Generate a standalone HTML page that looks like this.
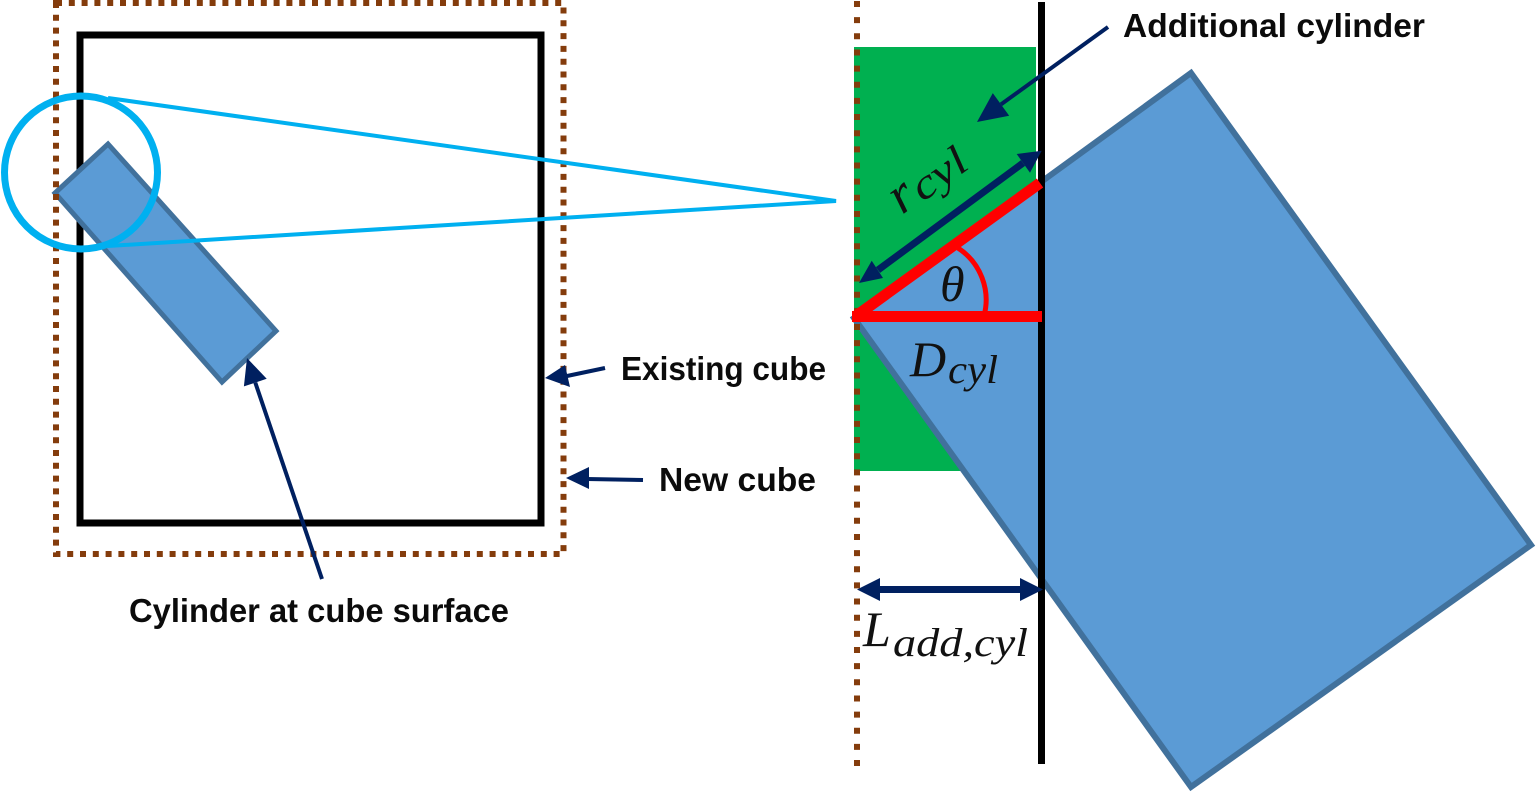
<!DOCTYPE html>
<html><head><meta charset="utf-8"><style>
html,body{margin:0;padding:0;background:#fff;width:1536px;height:795px;overflow:hidden}
svg{display:block}
.l{font-family:"Liberation Sans",sans-serif;font-weight:bold;font-size:33px;fill:#0b0b0b}
.m{font-family:"Liberation Serif",serif;font-style:italic;fill:#111}
</style></head><body>
<svg width="1536" height="795" viewBox="0 0 1536 795" xmlns="http://www.w3.org/2000/svg">
<rect x="854" y="47" width="182" height="424" fill="#00b050"/>
<polygon points="854,318 1191,73 1531,545 1191,787" fill="#5b9bd5" stroke="#41719c" stroke-width="6"/>
<rect x="80" y="35" width="461" height="488" fill="none" stroke="#000" stroke-width="7"/>
<polygon points="55,193 108,144 276,331 222,382" fill="#5b9bd5" stroke="#41719c" stroke-width="5"/>
<rect x="56" y="3" width="507.500" height="551" fill="none" stroke="#843c0c" stroke-width="6" stroke-dasharray="6 6.8"/>
<line x1="857" y1="1" x2="857" y2="766" stroke="#843c0c" stroke-width="6" stroke-dasharray="6 10.15"/>
<line x1="1041.500" y1="2" x2="1041.500" y2="764" stroke="#000" stroke-width="7"/>
<circle cx="81" cy="172.500" r="76.500" fill="none" stroke="#00b0f0" stroke-width="7"/>
<path d="M108 98L836 201L108 246" fill="none" stroke="#00b0f0" stroke-width="4"/>
<path d="M856 316L1040 183M852 316.500H1042" fill="none" stroke="#f00" stroke-width="11"/>
<path d="M958 248A62 62 0 0 1 984 316" fill="none" stroke="#f00" stroke-width="5"/>
<g fill="#002060" stroke="none">
<path d="M605 368L567 376" stroke="#002060" stroke-width="4" fill="none"/>
<polygon points="545,378 565,365 570,387"/>
<path d="M643 480L587 479" stroke="#002060" stroke-width="4" fill="none"/>
<polygon points="566,478 589,467 589,489"/>
<path d="M1108 27L1001 104.400" stroke="#002060" stroke-width="4" fill="none"/>
<polygon points="977,122 992.800,93.100 1009.200,115.700"/>
<path d="M322 579L255.300 382.600" stroke="#002060" stroke-width="4" fill="none"/>
<polygon points="247,358 266.700,378.800 243.900,386.400"/>
<path d="M878 270L1023 163" stroke="#002060" stroke-width="7" fill="none"/>
<polygon points="859,283 871.700,260.700 883,278"/>
<polygon points="1041.700,150.700 1016.700,154 1030,172.700"/>
<path d="M880 589.500H1020" stroke="#002060" stroke-width="7" fill="none"/>
<polygon points="857,589.500 880,578 880,601"/>
<polygon points="1043,589.500 1020,578 1020,601"/>
</g>
<text class="l" x="621" y="380" textLength="205" lengthAdjust="spacingAndGlyphs">Existing cube</text>
<text class="l" x="659" y="491" textLength="157" lengthAdjust="spacingAndGlyphs">New cube</text>
<text class="l" x="1123" y="37" textLength="302" lengthAdjust="spacingAndGlyphs">Additional cylinder</text>
<text class="l" x="129" y="622" textLength="380" lengthAdjust="spacingAndGlyphs">Cylinder at cube surface</text>
<g transform="translate(902 215) rotate(-36)">
<text class="m" font-size="54" x="0" y="0">r</text>
<text class="m" font-size="42" x="24" y="2" textLength="60" lengthAdjust="spacingAndGlyphs">cyl</text>
</g>
<text class="m" font-size="50" x="940" y="301">θ</text>
<text class="m" font-size="50" x="910" y="376">D</text>
<text class="m" font-size="40" x="948" y="383" textLength="50" lengthAdjust="spacingAndGlyphs">cyl</text>
<text class="m" font-size="50" x="863" y="646">L</text>
<text class="m" font-size="40" x="893" y="656" textLength="135" lengthAdjust="spacingAndGlyphs">add,cyl</text>
</svg>
</body></html>
